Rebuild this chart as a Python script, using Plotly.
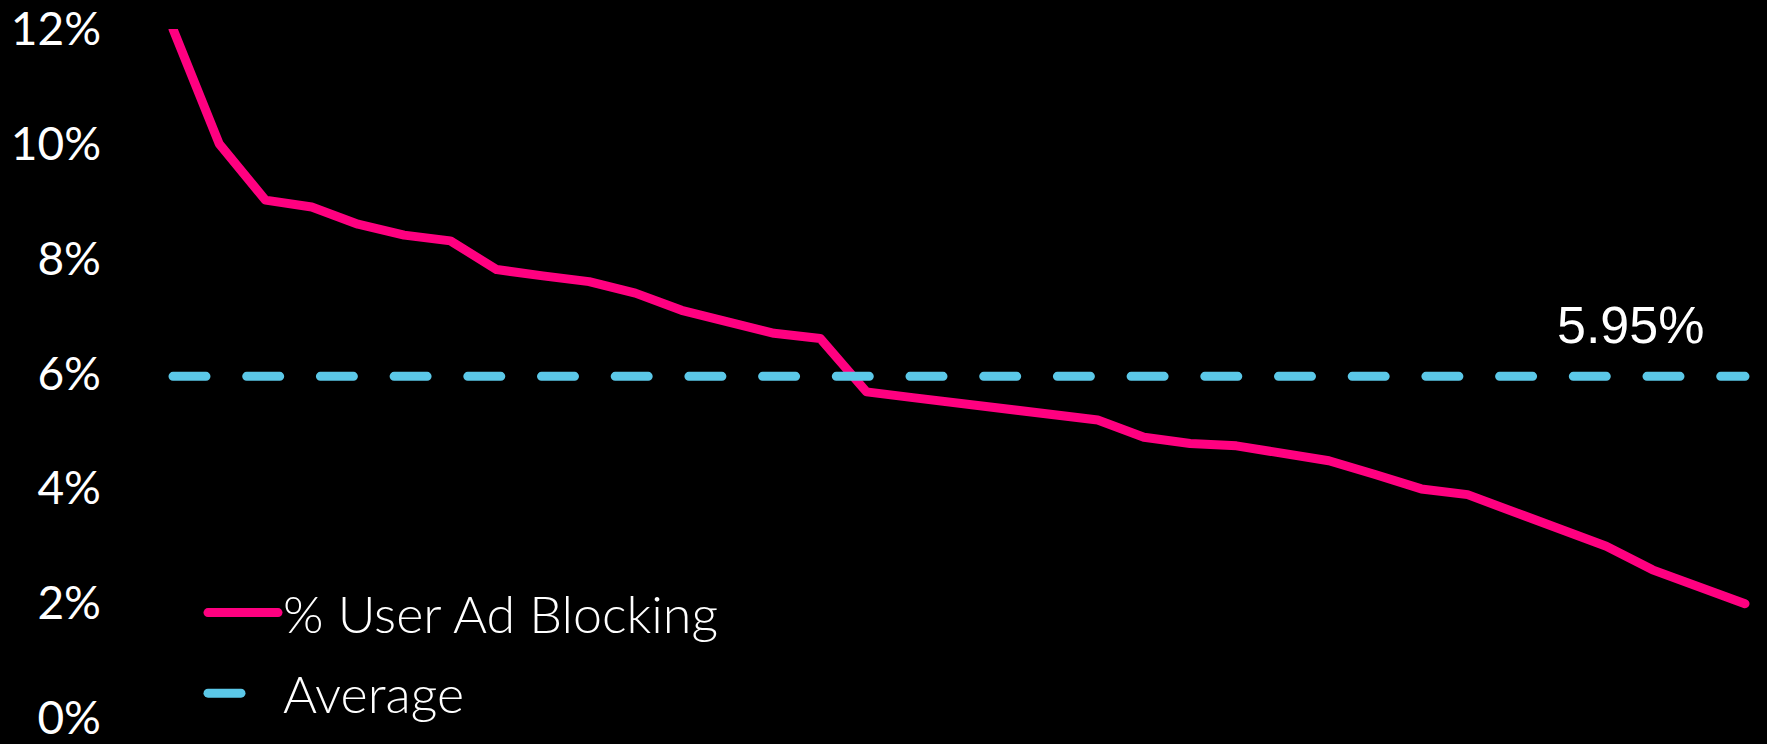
import plotly.graph_objects as go

# ---- data ----
categories = list(range(1, 36))
ad_blocking = [12.0, 10.0, 9.02, 8.90, 8.60, 8.41, 8.31, 7.81, 7.70, 7.60,
               7.40, 7.10, 6.90, 6.70, 6.61, 5.68, 5.58, 5.48, 5.38, 5.28,
               5.19, 4.89, 4.78, 4.74, 4.61, 4.48, 4.24, 3.99, 3.89, 3.59,
               3.29, 2.99, 2.58, 2.29, 1.99]
average_value = 5.95
average_line = [average_value] * len(categories)
average_label = "5.95%"
y_tickvals = [0, 2, 4, 6, 8, 10, 12]
y_ticktext = ["0%", "2%", "4%", "6%", "8%", "10%", "12%"]
series_names = ["% User Ad Blocking", "Average"]

PINK = "#FF0080"
BLUE = "#5BC8E8"

W, H = 1767, 744
ML, MR, MT, MB = 102, 0, 27, 22
first_px, last_px = 173, 1745
ppu = (last_px - first_px) / (categories[-1] - categories[0])
x_lo = categories[0] - (first_px - ML) / ppu
x_hi = categories[-1] + (W - MR - last_px) / ppu
plot_h = H - MT - MB

fig = go.Figure()
fig.add_trace(go.Scatter(
    x=categories, y=ad_blocking, mode="lines", name=series_names[0],
    legendgroup="a",
    line=dict(color=PINK, width=9), hoverinfo="skip"))
fig.add_trace(go.Scatter(
    x=categories, y=average_line, mode="lines", name=series_names[1],
    legendgroup="b",
    line=dict(color=BLUE, width=9, dash="33px,40.7px"), hoverinfo="skip"))

fig.add_annotation(
    x=32.53, y=average_value, xref="x", yref="y", text=average_label,
    showarrow=False, yshift=51, xanchor="center", yanchor="middle",
    font=dict(family="Liberation Sans, Arial, sans-serif", size=52, color="white"))

fig.update_layout(
    width=W, height=H,
    margin=dict(l=ML, r=MR, t=MT, b=MB, pad=0),
    paper_bgcolor="black", plot_bgcolor="black",
    showlegend=True,
    legend=dict(x=(203 - ML) / (W - ML - MR), y=1 - (575 - MT) / plot_h,
                xanchor="left", yanchor="top",
                bgcolor="rgba(0,0,0,0)", itemwidth=70, tracegroupgap=10,
                font=dict(family="Lato, sans-serif", size=52, color="white", weight=300)),
    xaxis=dict(range=[x_lo, x_hi], showgrid=False, zeroline=False,
               showline=False, showticklabels=False, ticks=""),
    yaxis=dict(range=[-0.0001, 12.0001], tickvals=y_tickvals, ticktext=y_ticktext,
               showgrid=False, zeroline=False, showline=False, ticks="",
               ticklabeloverflow="allow",
               tickfont=dict(family="Lato, sans-serif", size=46, color="white")),
)

post = """
var gd = document.getElementById('{plot_id}');
function rc(){
  gd.querySelectorAll('path.js-line, .legendlines path').forEach(function(p){
    p.style.strokeLinecap = 'round'; p.style.strokeLinejoin = 'round';
  });
}
rc();
if (gd.on) { gd.on('plotly_afterplot', rc); }
"""
fig.write_html("out.html", post_script=post)
